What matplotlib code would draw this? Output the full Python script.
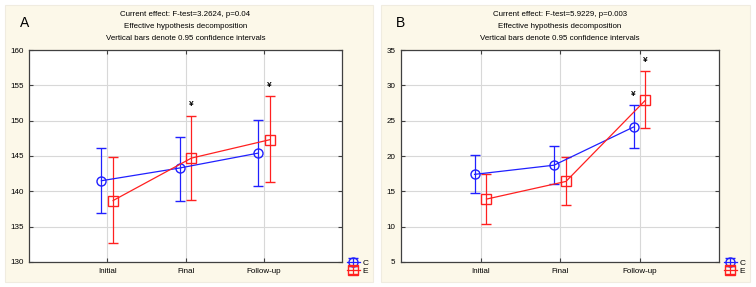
import matplotlib
matplotlib.use("Agg")
import matplotlib.pyplot as plt
from matplotlib.patches import Rectangle

plt.rcParams["font.family"] = ["Liberation Sans", "DejaVu Sans"]

categories = ["Initial", "Final", "Follow-up"]

# panel A
a_c_mean = [141.5, 143.3, 145.4]
a_c_low = [137.0, 138.7, 140.8]
a_c_high = [146.1, 147.7, 150.1]
a_e_mean = [138.7, 144.7, 147.3]
a_e_low = [132.7, 138.8, 141.3]
a_e_high = [144.8, 150.7, 153.5]
a_yen_c = [False, False, False]
a_yen_e = [False, True, True]
a_ticks = [130, 135, 140, 145, 150, 155, 160]
a_title = "Current effect: F-test=3.2624, p=0.04"

# panel B
b_c_mean = [17.4, 18.7, 24.1]
b_c_low = [14.7, 16.1, 21.1]
b_c_high = [20.1, 21.4, 27.2]
b_e_mean = [13.9, 16.4, 27.9]
b_e_low = [10.4, 13.0, 23.9]
b_e_high = [17.5, 19.9, 32.0]
b_yen_c = [False, False, True]
b_yen_e = [False, False, True]
b_ticks = [5, 10, 15, 20, 25, 30, 35]
b_title = "Current effect: F-test=5.9229, p=0.003"

W, H = 756, 287
CREAM = "#fcf8e9"


def px(x0, y0, x1, y1):
    return [x0 / W, 1 - y1 / H, (x1 - x0) / W, (y1 - y0) / H]


def draw_panel(fig, box, axbox, letter, title, ticks,
               c_mean, c_low, c_high, e_mean, e_low, e_high, yen_c, yen_e):
    x0, y0, x1, y1 = box
    fig.patches.append(Rectangle((x0 / W, 1 - y1 / H), (x1 - x0) / W, (y1 - y0) / H,
                                 transform=fig.transFigure, facecolor=CREAM,
                                 edgecolor="#f0ece0", lw=0.8, zorder=-10))
    ax = fig.add_axes(px(*axbox))
    ax.set_facecolor("white")

    pos = [1, 2, 3]
    off = 0.075
    xc = [p - off for p in pos]
    xe = [p + off for p in pos]
    c_err = [[m - l for m, l in zip(c_mean, c_low)], [h - m for m, h in zip(c_mean, c_high)]]
    e_err = [[m - l for m, l in zip(e_mean, e_low)], [h - m for m, h in zip(e_mean, e_high)]]

    hc = ax.errorbar(xc, c_mean, yerr=c_err, color="#2020ff", lw=0.9, capsize=3.5,
                     marker="o", ms=6.5, mfc="none", mew=1.0, zorder=3, label="C")
    he = ax.errorbar(xe, e_mean, yerr=e_err, color="#ff2020", lw=0.9, capsize=3.5,
                     marker="s", ms=6.5, mfc="none", mew=1.0, zorder=3, label="E")

    span = ticks[-1] - ticks[0]
    for x, h, flag in zip(xc, c_high, yen_c):
        if flag:
            ax.text(x, h + span * 0.035, "¥", ha="center", va="bottom", fontsize=6,
                    fontweight="bold")
    for x, h, flag in zip(xe, e_high, yen_e):
        if flag:
            ax.text(x, h + span * 0.035, "¥", ha="center", va="bottom", fontsize=6,
                    fontweight="bold")

    ax.set_xlim(0, 4)
    ax.set_ylim(ticks[0], ticks[-1])
    ax.set_xticks(pos)
    ax.set_xticklabels(categories)
    ax.set_yticks(ticks)
    ax.grid(True, color="#d8d8d8", lw=0.8)
    ax.set_axisbelow(True)
    ax.tick_params(direction="in", length=3, width=0.8, labelsize=5.8,
                   top=True, right=True, color="#404040", pad=4)
    for s in ax.spines.values():
        s.set_color("#404040")
        s.set_linewidth(0.9)

    cx = (axbox[0] + axbox[2]) / 2 / W
    lines = [title, "Effective hypothesis decomposition",
             "Vertical bars denote 0.95 confidence intervals"]
    for i, t in enumerate(lines):
        fig.text(cx, 1 - (15 + 11.5 * i) / H, t, ha="center", va="center", fontsize=5.7)
    fig.text((x0 + 15) / W, 1 - 23 / H, letter, ha="left", va="center", fontsize=10)

    axw = axbox[2] - axbox[0]
    axh = axbox[3] - axbox[1]
    ax.legend(handles=[hc, he], loc="upper left",
              bbox_to_anchor=(1 + 5 / axw, 3 / axh),
              frameon=False, fontsize=6, handlelength=1.5, handletextpad=0.4,
              labelspacing=0.05, borderpad=0, borderaxespad=0)
    return ax


fig = plt.figure(figsize=(W / 100, H / 100), dpi=100)
fig.patch.set_facecolor("white")

draw_panel(fig, (5, 5, 373, 282), (29, 50, 342, 262), "A", a_title, a_ticks,
           a_c_mean, a_c_low, a_c_high, a_e_mean, a_e_low, a_e_high, a_yen_c, a_yen_e)
draw_panel(fig, (381, 5, 750, 282), (401, 50, 719, 262), "B", b_title, b_ticks,
           b_c_mean, b_c_low, b_c_high, b_e_mean, b_e_low, b_e_high, b_yen_c, b_yen_e)

fig.savefig("out.png", dpi=100)
